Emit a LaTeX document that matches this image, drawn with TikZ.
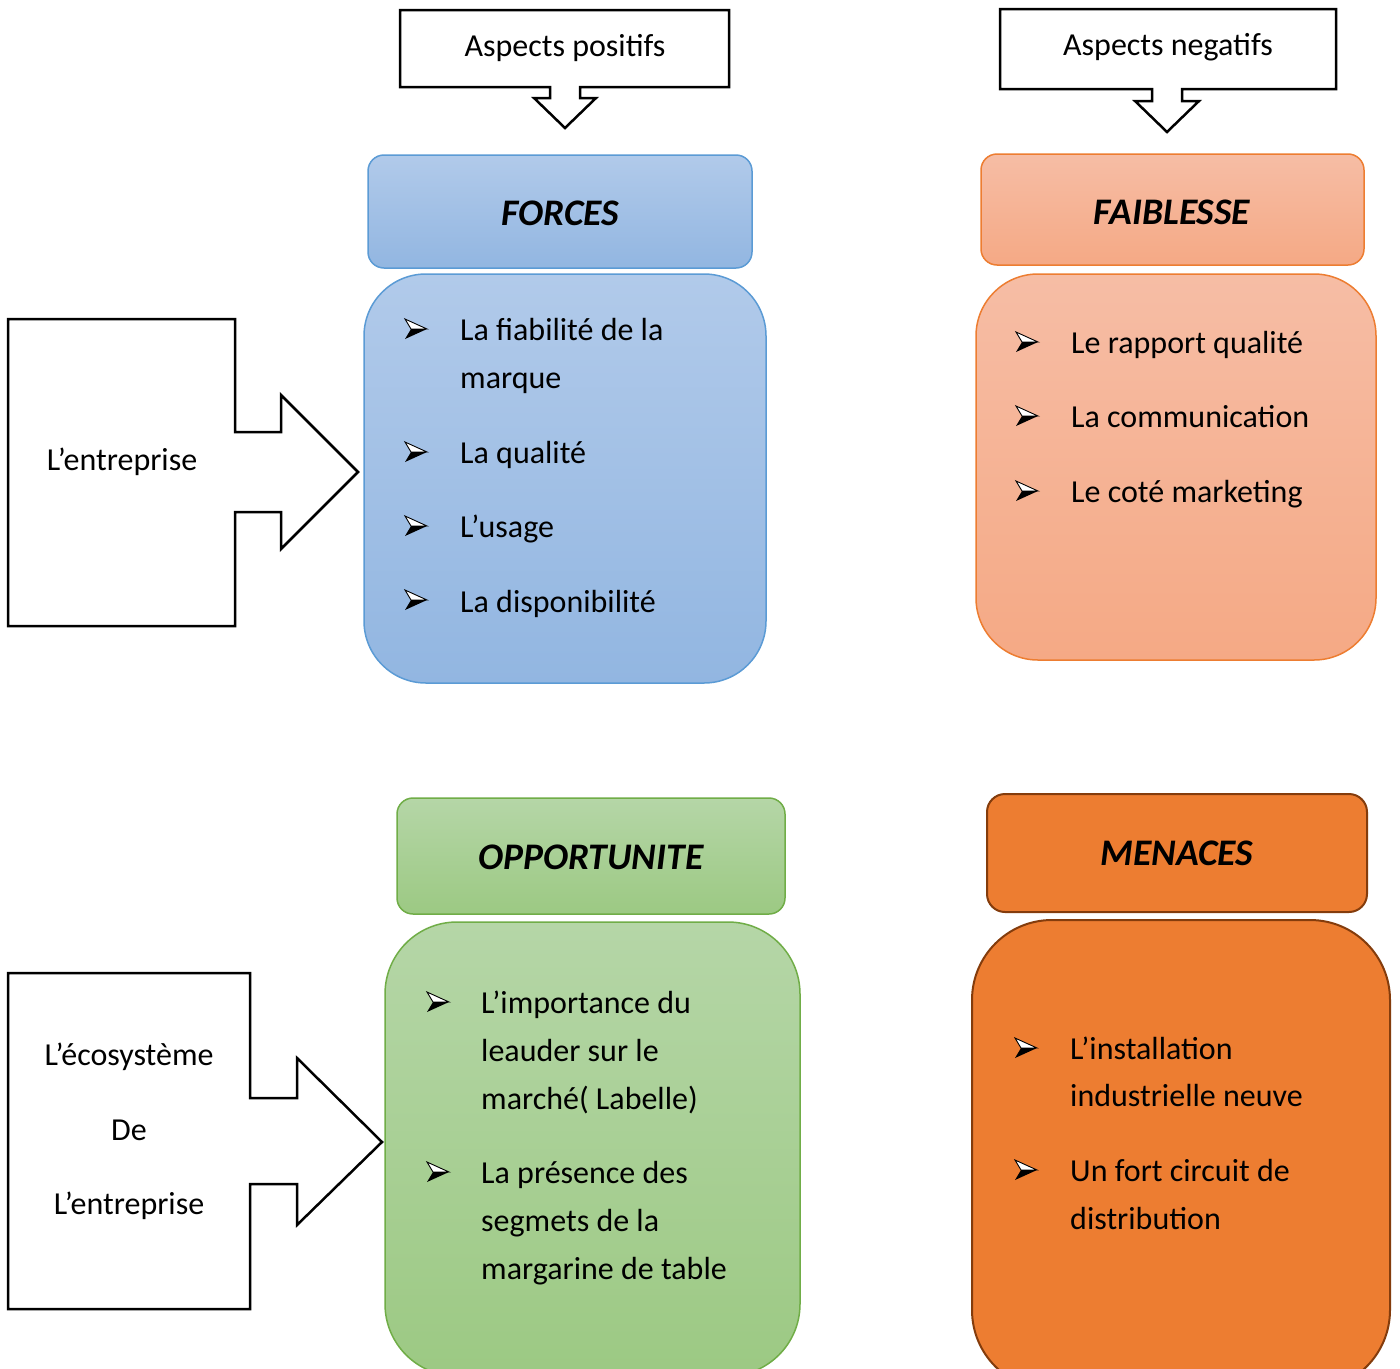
\documentclass[tikz,border=0pt]{standalone}
\usepackage{fontspec}
\setmainfont{Carlito}
\definecolor{blueA}{HTML}{B1CAEA}
\definecolor{blueB}{HTML}{92B6E1}
\definecolor{blueL}{HTML}{5B9BD5}
\definecolor{salA}{HTML}{F6BDA5}
\definecolor{salB}{HTML}{F5A985}
\definecolor{salL}{HTML}{ED7D31}
\definecolor{grnA}{HTML}{B5D6A7}
\definecolor{grnB}{HTML}{9CC983}
\definecolor{grnL}{HTML}{70AD47}
\definecolor{orgF}{HTML}{ED7D31}
\definecolor{orgL}{HTML}{843C0C}
\newcommand{\bodyfnt}{\fontsize{32}{48}\selectfont}
\newcommand{\headfnt}{\fontsize{37.5}{42}\selectfont\bfseries\itshape}
\tikzset{
  callout/.style={draw=black, line width=2.5pt, fill=white, line join=miter},
  txt/.style={inner sep=0pt, anchor=base west, font=\bodyfnt},
  ctxt/.style={inner sep=0pt, anchor=base, font=\bodyfnt},
  head/.style={inner sep=0pt, anchor=base, font=\headfnt},
  bul/.pic={
    \draw[line width=0.9pt, fill=white, line join=miter] (-11,-10) -- (11,0) -- (-5,0) -- cycle;
    \fill[black] (-5,0) -- (11,0) -- (-11,10) -- cycle;
  }
}
\begin{document}
\begin{tikzpicture}[x=1pt,y=-1pt]
\clip (0,0) rectangle (1400,1368);
\fill[white] (0,0) rectangle (1400,1368);

% top callouts
\draw[callout] (400,10) -- (729,10) -- (729,87) -- (580,87) -- (580,98) -- (596,98)
  -- (565,128) -- (534,98) -- (550,98) -- (550,87) -- (400,87) -- cycle;
\node[ctxt] (pos) at (565,56) {Aspects positifs};
\draw[callout] (1000,9) -- (1336,9) -- (1336,89) -- (1182,89) -- (1182,101) -- (1199,101)
  -- (1167,132) -- (1135,101) -- (1152,101) -- (1152,89) -- (1000,89) -- cycle;
\node[ctxt] (neg) at (1168,55) {Aspects negatifs};

% left callouts
\draw[callout] (8,319) -- (235,319) -- (235,432) -- (281,432) -- (281,395) -- (358,472)
  -- (281,549) -- (281,512) -- (235,512) -- (235,626) -- (8,626) -- cycle;
\node[ctxt] (ent) at (122,470) {L’entreprise};
\draw[callout] (8,973) -- (250,973) -- (250,1098) -- (297,1098) -- (297,1058) -- (382,1142)
  -- (297,1225) -- (297,1184) -- (250,1184) -- (250,1309) -- (8,1309) -- cycle;
\node[ctxt] (eco1) at (129,1065) {L’écosystème};
\node[ctxt] (eco2) at (129,1140) {De};
\node[ctxt] (eco3) at (129,1214) {L’entreprise};

% FORCES
\draw[draw=blueL, line width=1.5pt, rounded corners=16pt, top color=blueA, bottom color=blueB]
  (368,155) rectangle (752,268);
\node[head] (forces) at (560,225) {FORCES};
\draw[draw=blueL, line width=1.5pt, rounded corners=62pt, top color=blueA, bottom color=blueB]
  (364,274) rectangle (766,683);
\pic at (416,329) {bul};
\node[txt] (f1) at (460,340) {La fiabilité de la};
\node[txt] (f1b) at (460,388) {marque};
\pic at (416,452) {bul};
\node[txt] (f2) at (460,463) {La qualité};
\pic at (416,526) {bul};
\node[txt] (f3) at (460,537) {L’usage};
\pic at (416,600) {bul};
\node[txt] (f4) at (460,612) {La disponibilité};

% FAIBLESSE
\draw[draw=salL, line width=1.5pt, rounded corners=16pt, top color=salA, bottom color=salB]
  (981,154) rectangle (1364,265);
\node[head] (faib) at (1172,224) {FAIBLESSE};
\draw[draw=salL, line width=1.5pt, rounded corners=62pt, top color=salA, bottom color=salB]
  (976,274) rectangle (1376,660);
\pic at (1027,342) {bul};
\node[txt] (w1) at (1071,353) {Le rapport qualité};
\pic at (1027,416) {bul};
\node[txt] (w2) at (1071,427) {La communication};
\pic at (1027,491) {bul};
\node[txt] (w3) at (1071,502) {Le coté marketing};

% OPPORTUNITE
\draw[draw=grnL, line width=1.5pt, rounded corners=16pt, top color=grnA, bottom color=grnB]
  (397,798) rectangle (785,914);
\node[head] (opp) at (591,869) {OPPORTUNITE};
\draw[draw=grnL, line width=1.5pt, rounded corners=72pt, top color=grnA, bottom color=grnB]
  (385,922) rectangle (800,1376);
\pic at (438,1002) {bul};
\node[txt] (o1) at (481,1013) {L’importance du};
\node[txt] (o1b) at (481,1061) {leauder sur le};
\node[txt] (o1c) at (481,1109) {marché( Labelle)};
\pic at (438,1172) {bul};
\node[txt] (o2) at (481,1183) {La présence des};
\node[txt] (o2b) at (481,1231) {segmets de la};
\node[txt] (o2c) at (481,1279) {margarine de table};

% MENACES
\draw[draw=orgL, line width=2pt, rounded corners=18pt, fill=orgF]
  (987,794) rectangle (1367,912);
\node[head] (men) at (1177,865) {MENACES};
\draw[draw=orgL, line width=2pt, rounded corners=80pt, fill=orgF]
  (972,920) rectangle (1390,1390);
\pic at (1026,1048) {bul};
\node[txt] (t1) at (1070,1059) {L’installation};
\node[txt] (t1b) at (1070,1106) {industrielle neuve};
\pic at (1026,1170) {bul};
\node[txt] (t2) at (1070,1181) {Un fort circuit de};
\node[txt] (t2b) at (1070,1229) {distribution};
\end{tikzpicture}
\end{document}
